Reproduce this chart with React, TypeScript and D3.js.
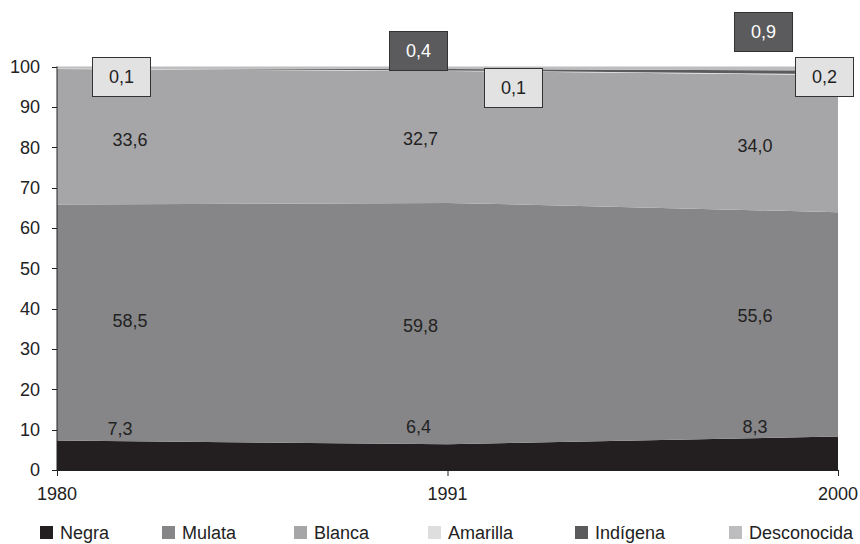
import * as d3 from "d3"

const years = ["1980", "1991", "2000"]
const seriesNames = ["Negra", "Mulata", "Blanca", "Amarilla", "Indígena", "Desconocida"]
const negra = [7.3, 6.4, 8.3]
const mulata = [58.5, 59.8, 55.6]
const blanca = [33.6, 32.7, 34.0]
const amarilla = [0.1, 0.1, 0.2]
const indigena = [0, 0.4, 0.9]
const desconocida = [0.5, 0.6, 1.0]
const yTicks = [0, 10, 20, 30, 40, 50, 60, 70, 80, 90, 100]

const colors = ["#231f20", "#868688", "#a6a6a8", "#dedede", "#5b5b5d", "#bdbdbf"]

// label nudges in px relative to the point / segment middle
const inlineNudge = [
  [{ dx: 63, dy: -27 }, { dx: -29, dy: -31 }, { dx: -83, dy: -27 }], // Negra
  [{ dx: 73, dy: -2 }, { dx: -27, dy: 2 }, { dx: -83, dy: -9 }], // Mulata
  [{ dx: 73, dy: 3 }, { dx: -27, dy: 2 }, { dx: -83, dy: 2 }], // Blanca
]
// boxed labels: top-left corner of box
const boxPos: Record<string, { x: number; y: number }[]> = {
  Amarilla: [{ x: 92, y: 57 }, { x: 484, y: 68 }, { x: 795, y: 57 }],
  Indígena: [{ x: 0, y: 0 }, { x: 389, y: 31 }, { x: 734, y: 12 }],
}

const W = 860
const H = 544
const font = "'Liberation Sans', Arial, sans-serif"
const fs = 18

export default function App() {
  const x = d3.scalePoint<string>().domain(years).range([57, 838])
  const y = d3.scaleLinear().domain([0, 100]).range([470, 66.5])

  const table = years.map((yr, i) => ({
    year: yr,
    Negra: negra[i],
    Mulata: mulata[i],
    Blanca: blanca[i],
    Amarilla: amarilla[i],
    "Indígena": indigena[i],
    Desconocida: desconocida[i],
  }))
  const stacked = d3.stack<any>().keys(seriesNames)(table)
  const area = d3
    .area<any>()
    .x((d) => x(d.data.year) as number)
    .y0((d) => y(d[0]))
    .y1((d) => y(d[1]))

  const fmt = (v: number) => v.toFixed(1).replace(".", ",")
  const legendX = [40, 162, 294, 428, 575, 729]

  return (
    <svg width={W} height={H} style={{ position: "absolute", left: 0, top: 0 }} fontFamily={font}>
      <rect width={W} height={H} fill="#fff" />
      {stacked.map((s, i) => (
        <path key={s.key} d={area(s) || ""} fill={colors[i]} />
      ))}

      {/* axes */}
      <line x1={57} x2={57} y1={y(100)} y2={y(0)} stroke="#222" strokeWidth={1} />
      <line x1={57} x2={838} y1={y(0) + 0.5} y2={y(0) + 0.5} stroke="#222" strokeWidth={1} />
      {yTicks.map((t) => (
        <g key={t}>
          <line x1={52} x2={57} y1={Math.round(y(t)) + 0.5} y2={Math.round(y(t)) + 0.5} stroke="#222" />
          <text x={40} y={y(t)} dy="0.36em" textAnchor="end" fontSize={fs} fill="#222">
            {t}
          </text>
        </g>
      ))}
      {years.map((yr) => (
        <g key={yr}>
          <line x1={(x(yr) as number) + 0.5} x2={(x(yr) as number) + 0.5} y1={y(0)} y2={y(0) + 6} stroke="#222" />
          <text x={x(yr)} y={500} textAnchor="middle" fontSize={fs} fill="#222">
            {yr}
          </text>
        </g>
      ))}

      {/* inline labels */}
      {stacked.slice(0, 3).map((s, si) =>
        s.map((d, i) => (
          <text
            key={s.key + i}
            x={(x(d.data.year) as number) + inlineNudge[si][i].dx}
            y={y((d[0] + d[1]) / 2) + inlineNudge[si][i].dy}
            dy="0.36em"
            textAnchor="middle"
            fontSize={fs}
            fill="#222"
          >
            {fmt(d[1] - d[0])}
          </text>
        ))
      )}

      {/* boxed labels */}
      {["Amarilla", "Indígena"].map((key) => {
        const vals = key === "Amarilla" ? amarilla : indigena
        const dark = key === "Indígena"
        return vals.map((v, i) =>
          v > 0 ? (
            <g key={key + i} transform={`translate(${boxPos[key][i].x},${boxPos[key][i].y})`}>
              <rect
                x={0.5}
                y={0.5}
                width={58}
                height={39}
                fill={dark ? "#5b5b5d" : "#e2e2e2"}
                stroke="#333"
                strokeWidth={1}
              />
              <text x={29.5} y={20} dy="0.36em" textAnchor="middle" fontSize={fs} fill={dark ? "#fff" : "#222"}>
                {fmt(v)}
              </text>
            </g>
          ) : null
        )
      })}

      {/* legend */}
      {seriesNames.map((n, i) => (
        <g key={n}>
          <rect x={legendX[i]} y={526} width={13} height={13} fill={colors[i]} />
          <text x={legendX[i] + 20} y={539} fontSize={fs} fill="#222">
            {n}
          </text>
        </g>
      ))}
    </svg>
  )
}
